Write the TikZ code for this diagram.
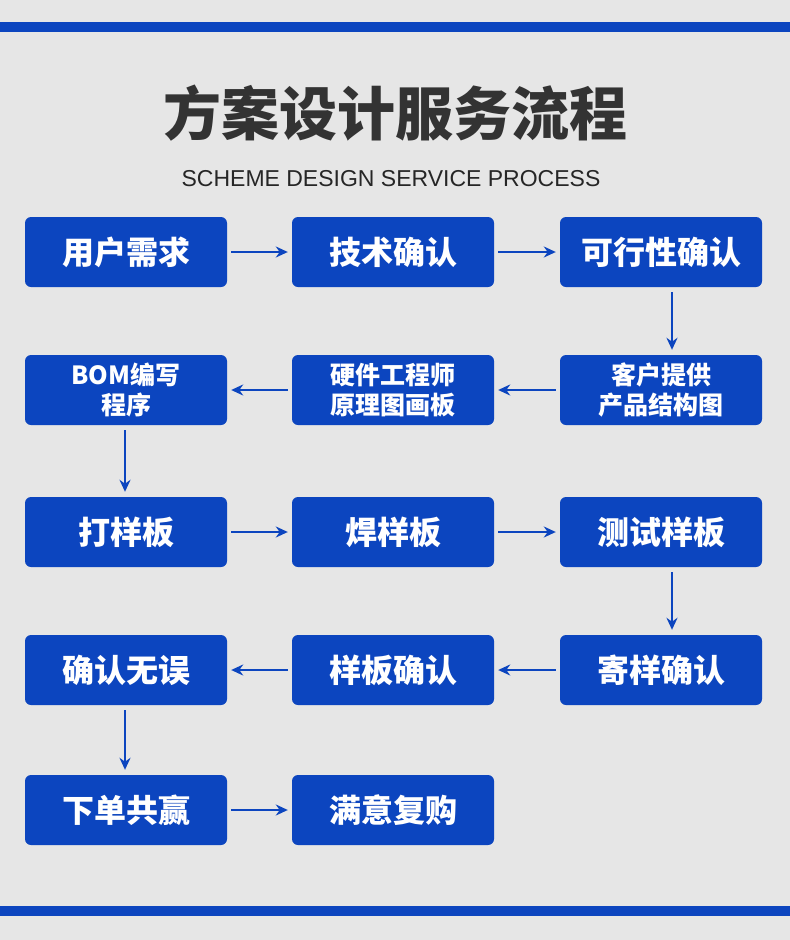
\documentclass[tikz,border=0pt]{standalone}
\usepackage{fontspec}
\setmainfont{Liberation Sans}
\newfontfamily\cjk{Noto Sans CJK SC}
\usetikzlibrary{arrows.meta}
\definecolor{bg}{HTML}{E6E6E6}
\definecolor{myblue}{HTML}{0C45BF}
\definecolor{titlec}{HTML}{333333}
\begin{document}
\begin{tikzpicture}[x=1pt,y=-1pt,
  box/.style={fill=myblue,rounded corners=6pt,minimum width=202pt,minimum height=70pt,inner sep=0pt,text=white,font=\cjk\bfseries\fontsize{32}{36}\selectfont,align=center},
  small/.style={font=\cjk\bfseries\fontsize{25}{30}\selectfont},
  arr/.style={draw=myblue,line width=2.2pt,-{Stealth[length=12pt,width=11pt]}}]
\fill[bg] (0,0) rectangle (790,940);
\useasboundingbox (0,0) rectangle (790,940);
\fill[myblue] (0,22) rectangle (790,32);
\fill[myblue] (0,906) rectangle (790,916);
\node[text=titlec,font=\cjk\bfseries\fontsize{58}{64}\selectfont] (title) at (395,113) {方案设计服务流程};
\node[text=black!85,font=\fontsize{23}{26}\selectfont] (sub) at (391,179) {SCHEME DESIGN SERVICE PROCESS};
\node[box] (a1) at (126,252) {用户需求};
\node[box] (a2) at (393,252) {技术确认};
\node[box] (a3) at (661,252) {可行性确认};
\node[box,small] (b1) at (126,390) {BOM编写\\程序};
\node[box,small] (b2) at (393,390) {硬件工程师\\原理图画板};
\node[box,small] (b3) at (661,390) {客户提供\\产品结构图};
\node[box] (c1) at (126,532) {打样板};
\node[box] (c2) at (393,532) {焊样板};
\node[box] (c3) at (661,532) {测试样板};
\node[box] (d1) at (126,670) {确认无误};
\node[box] (d2) at (393,670) {样板确认};
\node[box] (d3) at (661,670) {寄样确认};
\node[box] (e1) at (126,810) {下单共赢};
\node[box] (e2) at (393,810) {满意复购};
\draw[arr] ([xshift=4pt]a1.east) -- ([xshift=-4pt]a2.west);
\draw[arr] ([xshift=4pt]a2.east) -- ([xshift=-4pt]a3.west);
\draw[arr] ([xshift=11pt,yshift=-5pt]a3.south) -- ([xshift=11pt,yshift=5pt]b3.north);
\draw[arr] ([xshift=-4pt]b3.west) -- ([xshift=4pt]b2.east);
\draw[arr] ([xshift=-4pt]b2.west) -- ([xshift=4pt]b1.east);
\draw[arr] ([xshift=-1pt,yshift=-5pt]b1.south) -- ([xshift=-1pt,yshift=5pt]c1.north);
\draw[arr] ([xshift=4pt]c1.east) -- ([xshift=-4pt]c2.west);
\draw[arr] ([xshift=4pt]c2.east) -- ([xshift=-4pt]c3.west);
\draw[arr] ([xshift=11pt,yshift=-5pt]c3.south) -- ([xshift=11pt,yshift=5pt]d3.north);
\draw[arr] ([xshift=-4pt]d3.west) -- ([xshift=4pt]d2.east);
\draw[arr] ([xshift=-4pt]d2.west) -- ([xshift=4pt]d1.east);
\draw[arr] ([xshift=-1pt,yshift=-5pt]d1.south) -- ([xshift=-1pt,yshift=5pt]e1.north);
\draw[arr] ([xshift=4pt]e1.east) -- ([xshift=-4pt]e2.west);
\end{tikzpicture}
\end{document}
